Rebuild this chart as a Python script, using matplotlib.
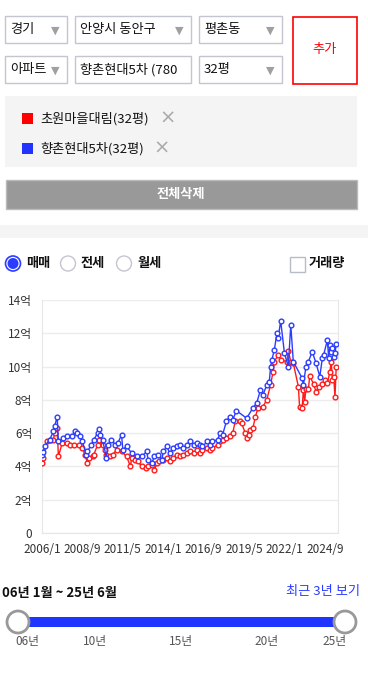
import numpy as np
import matplotlib
matplotlib.use("Agg")
import matplotlib.pyplot as plt
from matplotlib.patches import Rectangle, Circle

plt.rcParams['font.family'] = ['Noto Sans CJK KR', 'DejaVu Sans']

# ---------------------------------------------------------------
# data (months since 2006/1, price in 억)
red_name = "초원마을대림(32평)"
blue_name = "향촌현대5차(32평)"

red_mon = [0, 1, 4, 6, 9, 10, 12, 13, 16, 20, 22, 25, 29, 32, 34, 36, 37, 40, 41, 44,
           45, 48, 50, 51, 54, 56, 59, 63, 67, 70, 71, 74, 76, 79, 82, 84, 87, 89, 91, 93,
           96, 99, 101, 104, 107, 109, 112, 115, 117, 120, 123, 125, 127, 131, 133, 135, 139, 141, 143, 146,
           149, 151, 153, 157, 158, 161, 162, 164, 165, 167, 169, 171, 175, 178, 181, 183, 184, 187, 189, 194,
           195, 197, 199, 203, 204, 206, 207, 208, 209, 211, 212, 215, 217, 219, 222, 224, 226, 228, 229, 230,
           231, 232, 233]
red_val = [4.2, 4.5, 5.5, 5.6, 5.6, 6.0, 6.3, 4.6, 5.4, 5.4, 5.3, 5.3, 5.3, 5.1, 4.7, 4.2, 4.5, 4.6, 4.7, 5.3,
           5.6, 5.3, 5.0, 4.7, 4.6, 4.7, 5.0, 4.9, 4.6, 4.0, 4.5, 4.4, 4.3, 4.0, 3.9, 4.0, 4.1, 3.8, 4.2, 4.3,
           4.4, 4.5, 4.3, 4.5, 4.7, 4.6, 4.7, 4.8, 4.9, 4.8, 5.0, 4.8, 5.0, 5.1, 5.0, 5.1, 5.3, 5.5, 5.6, 5.7,
           5.8, 6.0, 6.7, 6.7, 6.6, 6.0, 5.7, 5.9, 6.2, 6.3, 7.0, 7.5, 7.6, 8.0, 8.9, 9.7, 10.3, 10.7, 10.4, 10.3,
           10.95, 10.3, 10.2, 8.8, 7.55, 7.5, 8.6, 7.9, 8.65, 8.65, 9.45, 8.95, 8.5, 8.75, 8.95, 9.2, 9.0, 9.7, 10.3, 9.2,
           9.4, 8.15, 10.0]

blue_mon = [0, 1, 2, 6, 9, 10, 12, 13, 17, 20, 24, 26, 28, 30, 32, 35, 36, 39, 41, 44,
            45, 46, 48, 51, 52, 55, 58, 60, 63, 64, 67, 71, 75, 79, 83, 84, 87, 89, 92, 95,
            96, 99, 101, 104, 107, 109, 112, 115, 117, 120, 123, 125, 127, 131, 133, 135, 139, 141, 143, 146,
            149, 151, 154, 162, 167, 170, 173, 175, 178, 180, 181, 182, 184, 186, 187, 189, 192, 195, 197, 199,
            206, 207, 209, 211, 214, 217, 220, 222, 223, 226, 227, 228, 229, 230, 231, 232, 233]
blue_val = [4.7, 4.85, 5.2, 5.6, 6.1, 6.4, 7.0, 5.5, 5.7, 5.8, 5.85, 6.1, 6.0, 5.8, 5.5, 4.7, 4.9, 5.3, 5.6, 6.0,
            6.25, 5.9, 5.6, 4.5, 5.3, 5.6, 5.3, 5.4, 5.9, 5.0, 5.2, 4.8, 4.6, 4.6, 4.9, 4.4, 4.2, 4.6, 4.7, 4.4,
            4.9, 5.2, 4.8, 5.1, 5.2, 5.3, 5.1, 5.3, 5.5, 5.3, 5.4, 5.3, 5.2, 5.5, 5.3, 5.5, 5.6, 6.0, 5.9, 6.7,
            7.0, 6.8, 7.35, 6.9, 7.5, 7.8, 8.6, 8.3, 8.9, 9.07, 10.0, 10.4, 11.0, 12.0, 11.7, 12.75, 10.8, 10.0, 12.5, 10.3,
            9.3, 8.9, 10.0, 10.3, 10.9, 10.2, 9.4, 10.5, 10.7, 11.6, 10.5, 11.3, 10.9, 11.1, 10.6, 10.8, 11.35]

x_ticks = [0, 32, 64, 96, 128, 160, 192, 224]
x_labels = ["2006/1", "2008/9", "2011/5", "2014/1", "2016/9", "2019/5", "2022/1", "2024/9"]
y_ticks = [0, 2, 4, 6, 8, 10, 12, 14]
y_labels = ["0", "2억", "4억", "6억", "8억", "10억", "12억", "14억"]

slider_pos = [27, 95, 181, 267, 335]
slider_labels = ["06년", "10년", "15년", "20년", "25년"]

RED = "#ff1a1a"
BLUE = "#2b3cff"
W, H = 368, 680

fig = plt.figure(figsize=(W / 100, H / 100), dpi=100)

# overlay axes in pixel coordinates for the UI parts
ui = fig.add_axes([0, 0, 1, 1])
ui.set_xlim(0, W)
ui.set_ylim(H, 0)
ui.axis("off")


def box(x0, y0, x1, y1, fc="white", ec="#c3c6d1", lw=1.0):
    ui.add_patch(Rectangle((x0, y0), x1 - x0, y1 - y0, facecolor=fc, edgecolor=ec, linewidth=lw))


def txt(x, y, s, size=9.5, color="#111111", ha="left", weight="normal"):
    ui.text(x, y, s, fontsize=size, color=color, ha=ha, va="center", fontweight=weight)


# dropdowns
rows = [(16, 43, ["경기", "안양시 동안구", "평촌동"]),
        (56, 83, ["아파트", "향촌현대5차 (780", "32평"])]
cols = [(5, 67), (75, 191), (199, 282)]
for y0, y1, labels in rows:
    for (x0, x1), lab in zip(cols, labels):
        box(x0, y0, x1, y1)
        txt(x0 + 5, (y0 + y1) / 2, lab)
        if lab != "향촌현대5차 (780":
            ui.text(x1 - 12, (y0 + y1) / 2 + 1, "▼", fontsize=8, color="#a0a0a0",
                    ha="center", va="center", family="DejaVu Sans")

box(292.5, 16.5, 356.5, 83.5, ec="#ff0000", lw=1.2)
txt(324.5, 50, "추가", size=9.5, color="#ff0000", ha="center")

# selected list panel
box(5, 96, 357, 167, fc="#f4f4f4", ec="none", lw=0)
ui.add_patch(Rectangle((22, 113), 11, 11, facecolor="#ff0000", edgecolor="none"))
txt(40, 118.5, red_name, size=9.5)
ui.text(168, 118, "×", fontsize=14, color="#aaaaaa", ha="center", va="center", family="DejaVu Sans")
ui.add_patch(Rectangle((22, 143), 11, 11, facecolor="#2233ff", edgecolor="none"))
txt(40, 148.5, blue_name, size=9.5)
ui.text(162, 148, "×", fontsize=14, color="#aaaaaa", ha="center", va="center", family="DejaVu Sans")

box(5.5, 179.5, 356.5, 208.5, fc="#999999", ec="#bbbbbb", lw=1.0)
txt(181, 194, "전체삭제", size=9.5, color="white", ha="center", weight="bold")

ui.add_patch(Rectangle((0, 225), W, 13, facecolor="#f4f4f4", edgecolor="none"))

# radio buttons / checkbox
ui.add_patch(Circle((13, 263.5), 7.5, facecolor="white", edgecolor=BLUE, linewidth=1.2))
ui.add_patch(Circle((13, 263.5), 5.5, facecolor=BLUE, edgecolor="none"))
txt(26, 263.5, "매매", size=9.5, weight="bold")
ui.add_patch(Circle((68, 263.5), 7.5, facecolor="white", edgecolor="#c3c6d1", linewidth=1.0))
txt(81, 263.5, "전세", size=9.5, weight="bold")
ui.add_patch(Circle((124, 263.5), 7.5, facecolor="white", edgecolor="#c3c6d1", linewidth=1.0))
txt(137, 263.5, "월세", size=9.5, weight="bold")
box(289.5, 256.5, 304.5, 271.5, ec="#b8bcc8")
txt(309, 263.5, "거래량", size=9.5, weight="bold")

# period slider
txt(2, 593, "06년 1월 ~ 25년 6월", size=9.5, weight="bold")
txt(360, 592, "최근 3년 보기", size=9.5, color=BLUE, ha="right")
ui.add_patch(Rectangle((18, 617), 327, 10, facecolor="#1f35ff", edgecolor="none"))
for cx in (18, 345):
    ui.add_patch(Circle((cx, 622), 11, facecolor="white", edgecolor="#999999", linewidth=2))
for px, lab in zip(slider_pos, slider_labels):
    txt(px, 642, lab, size=8.5, color="#555555", ha="center")

# ---------------------------------------------------------------
# price chart
ax = fig.add_axes([42 / W, 1 - 533 / H, (338 - 42) / W, (533 - 300) / H])
ax.set_facecolor("none")
ax.plot(red_mon, red_val, color=RED, lw=1.0, marker="o", ms=3.4, mfc="white", mew=1.0, zorder=3)
ax.plot(blue_mon, blue_val, color=BLUE, lw=1.0, marker="o", ms=3.4, mfc="white", mew=1.0, zorder=4)
ax.set_xlim(0, 234.4)
ax.set_ylim(0, 14)
ax.set_yticks(y_ticks)
ax.set_yticklabels(y_labels)
ax.set_xticks(x_ticks)
ax.set_xticklabels(x_labels)
ax.tick_params(length=0, labelsize=8.5, colors="#333333", pad=7)
ax.tick_params(axis="y", pad=7)
ax.grid(axis="y", color="#ececec", lw=1)
for s in ax.spines.values():
    s.set_color("#e6e6e6")
ax.spines["top"].set_visible(False)

fig.savefig("out.png", dpi=100)
